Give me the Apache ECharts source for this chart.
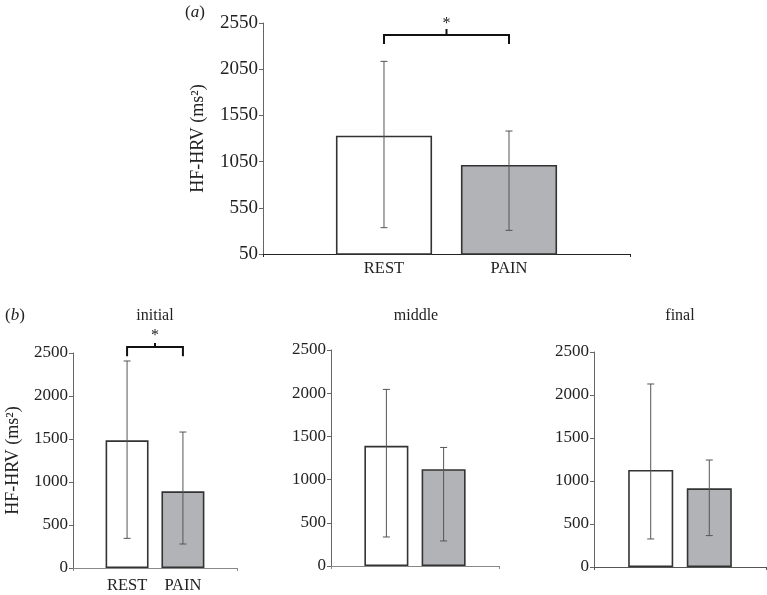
<!DOCTYPE html>
<html>
<head>
<meta charset="utf-8">
<script src="https://cdn.jsdelivr.net/npm/echarts@6/dist/echarts.min.js"></script>
<style>html,body{margin:0;padding:0;background:#fff}#c{width:767px;height:595px}</style>
</head>
<body>
<div id="c"></div>
<script>
// ---- data ----
const groups = ['REST', 'PAIN'];
// panel (a): overall
const overallMean = [1330, 1013];
const overallLow = [335, 306];
const overallHigh = [2135, 1381];
// panel (b): phases
const phases = ['initial', 'middle', 'final'];
const initialMean = [1485, 892];
const initialLow = [345, 279];
const initialHigh = [2407, 1581];
const middleMean = [1391, 1121];
const middleLow = [336, 290];
const middleHigh = [2044, 1372];
const finalMean = [1128, 915];
const finalLow = [326, 365];
const finalHigh = [2128, 1244];
// significance brackets: [leg bottom, bar level, peak, star]
const overallSig = [2323, 2420, 2485, 2540];
const initialSig = [2462, 2570, 2616, 2700];
// tick settings
const topAxis = {min: 50, max: 2550, interval: 500};
const bottomAxis = {min: 0, max: 2500, interval: 500};

const FONT = '"Liberation Serif", "Times New Roman", serif';
const TXT = '#222';
const BAR_W = 0.262, BAR_GAP = 0.30;
const fills = ['#ffffff', '#b2b3b6'];

const grids = [
  {left: 263, top: 23, width: 367, height: 231},
  {left: 73, top: 353, width: 164, height: 215},
  {left: 331, top: 350, width: 168, height: 216},
  {left: 594, top: 352, width: 172, height: 215}
];

function barCenter(api, idx, v) {
  const c = api.coord([0, v]);
  const band = api.size([1, 0])[0];
  const bw = band * BAR_W;
  return [c[0] + (idx - 0.5) * (bw + bw * BAR_GAP), c[1]];
}

const xAxes = [], yAxes = [], series = [];
const panels = [
  {mean: overallMean, low: overallLow, high: overallHigh, axis: topAxis, labels: true, sig: overallSig, name: true, gap: 56, xColor: '#222', labelDist: 5, tickSize: 19},
  {mean: initialMean, low: initialLow, high: initialHigh, axis: bottomAxis, labels: true, sig: initialSig, name: true, gap: 51, xColor: '#888', labelDist: 9, tickSize: 17},
  {mean: middleMean, low: middleLow, high: middleHigh, axis: bottomAxis, labels: false, sig: null, name: false, xColor: '#888', tickSize: 17},
  {mean: finalMean, low: finalLow, high: finalHigh, axis: bottomAxis, labels: false, sig: null, name: false, xColor: '#555', tickSize: 17}
];

panels.forEach((p, gi) => {
  xAxes.push({
    type: 'category', gridIndex: gi, data: [''],
    axisLine: {lineStyle: {color: p.xColor, width: 1.2}},
    axisTick: {show: true, length: 3, lineStyle: {color: p.xColor}},
    axisLabel: {show: false}
  });
  yAxes.push({
    type: 'value', gridIndex: gi, min: p.axis.min, max: p.axis.max, interval: p.axis.interval,
    name: p.name ? 'HF-HRV (ms²)' : '', nameLocation: 'middle', nameGap: p.gap || 50,
    nameTextStyle: {fontFamily: FONT, fontSize: 18, color: TXT},
    axisLine: {show: true, lineStyle: {color: '#666', width: 1}},
    axisTick: {show: true, length: 4, lineStyle: {color: '#666'}},
    splitLine: {show: false},
    axisLabel: {fontFamily: FONT, fontSize: p.tickSize, color: TXT, margin: 5,
      formatter: v => String(v)}
  });
  groups.forEach((g, i) => {
    series.push({
      type: 'bar', name: g, xAxisIndex: gi, yAxisIndex: gi,
      data: [p.mean[i]], barWidth: (BAR_W * 100) + '%', barGap: (BAR_GAP * 100) + '%',
      itemStyle: {color: fills[i], borderColor: '#333', borderWidth: 1.6},
      label: {show: p.labels, position: 'bottom', distance: p.labelDist || 6, formatter: '{a}',
        fontFamily: FONT, fontSize: 16.5, color: TXT},
      emphasis: {disabled: true}, silent: true, animation: false
    });
  });
  // error bars
  series.push({
    type: 'custom', xAxisIndex: gi, yAxisIndex: gi, silent: true, animation: false, z: 5,
    data: groups.map((g, i) => [0, p.low[i], p.high[i], i]),
    renderItem: function (params, api) {
      const idx = api.value(3);
      const lo = barCenter(api, idx, api.value(1));
      const hi = barCenter(api, idx, api.value(2));
      const cap = 3.5;
      const st = {stroke: '#555', lineWidth: 1};
      return {type: 'group', children: [
        {type: 'line', shape: {x1: lo[0], y1: lo[1], x2: hi[0], y2: hi[1]}, style: st},
        {type: 'line', shape: {x1: hi[0] - cap, y1: hi[1], x2: hi[0] + cap, y2: hi[1]}, style: st},
        {type: 'line', shape: {x1: lo[0] - cap, y1: lo[1], x2: lo[0] + cap, y2: lo[1]}, style: st}
      ]};
    }
  });
  if (p.sig) {
    series.push({
      type: 'custom', xAxisIndex: gi, yAxisIndex: gi, silent: true, animation: false, clip: false, z: 6,
      data: [[0, p.sig[0], p.sig[1], p.sig[2], p.sig[3]]],
      renderItem: function (params, api) {
        const aLeg = barCenter(api, 0, api.value(1));
        const aBar = barCenter(api, 0, api.value(2));
        const bLeg = barCenter(api, 1, api.value(1));
        const bBar = barCenter(api, 1, api.value(2));
        const mid = (aBar[0] + bBar[0]) / 2;
        const peak = api.coord([0, api.value(3)])[1];
        const star = api.coord([0, api.value(4)])[1];
        return {type: 'group', children: [
          {type: 'polyline', shape: {points: [[aLeg[0], aLeg[1]], [aBar[0], aBar[1]], [bBar[0], bBar[1]], [bLeg[0], bLeg[1]]]},
            style: {stroke: '#111', lineWidth: 2, fill: null}},
          {type: 'line', shape: {x1: mid, y1: aBar[1], x2: mid, y2: peak}, style: {stroke: '#111', lineWidth: 2}},
          {type: 'text', x: mid, y: star, style: {text: '*', fontFamily: FONT, fontSize: 16, fill: TXT, align: 'center', verticalAlign: 'middle'}}
        ]};
      }
    });
  }
});

const titles = [
  {text: '{p|(}{i|a}{p|)}', left: 185, top: 4},
  {text: '{p|(}{i|b}{p|)}', left: 5, top: 307},
  {text: 'initial', left: 155, top: 308, textAlign: 'center'},
  {text: 'middle', left: 416, top: 308, textAlign: 'center'},
  {text: 'final', left: 680, top: 308, textAlign: 'center'}
].map(t => Object.assign({
  padding: 0,
  textStyle: {fontFamily: FONT, fontSize: 16, fontWeight: 'normal', color: TXT,
    rich: {p: {fontFamily: FONT, fontSize: 17, color: TXT}, i: {fontFamily: FONT, fontSize: 17, fontStyle: 'italic', color: TXT}}}
}, t));

const chart = echarts.init(document.getElementById('c'), null, {renderer: 'canvas'});
chart.setOption({
  animation: false,
  backgroundColor: '#fff',
  title: titles,
  grid: grids,
  xAxis: xAxes,
  yAxis: yAxes,
  series: series
});
</script>
</body>
</html>
